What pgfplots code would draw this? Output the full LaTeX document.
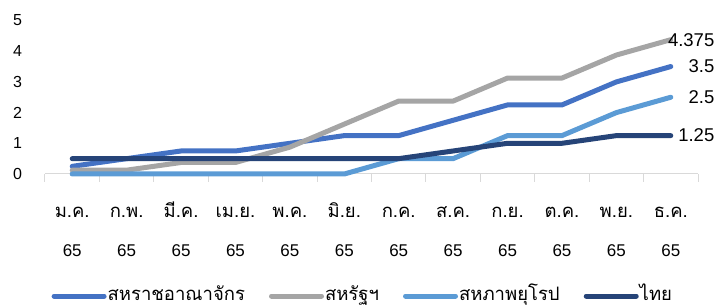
\documentclass[border=0pt]{standalone}
\usepackage{fontspec}
\setmainfont{Liberation Sans}
\newfontfamily\thaifont[Script=Thai]{Loma}
\usepackage{pgfplots}
\pgfplotsset{compat=1.18}
\definecolor{cUK}{HTML}{4472C4}
\definecolor{cUS}{HTML}{A5A5A5}
\definecolor{cEU}{HTML}{5B9BD5}
\definecolor{cTH}{HTML}{264478}
\definecolor{cAx}{HTML}{D9D9D9}
\newcommand{\thlab}[1]{{\rule{0pt}{20pt}\fontsize{18.5pt}{40pt}\thaifont #1}}
\begin{document}
\begin{tikzpicture}
\path[use as bounding box] (-45pt,-133pt) rectangle (673pt,174pt);
\begin{axis}[
  at={(0pt,0pt)}, anchor=south west,
  scale only axis, width=653pt, height=153.5pt,
  xmin=-0.5, xmax=11.5, ymin=0, ymax=5,
  clip=false,
  axis x line*=bottom, axis y line*=left,
  y axis line style={draw=none},
  x axis line style={draw=cAx, line width=1pt},
  xtick={0,...,11},
  xticklabels={\thlab{ม.ค.}\\65,\thlab{ก.พ.}\\65,\thlab{มี.ค.}\\65,\thlab{เม.ย.}\\65,\thlab{พ.ค.}\\65,\thlab{มิ.ย.}\\65,\thlab{ก.ค.}\\65,\thlab{ส.ค.}\\65,\thlab{ก.ย.}\\65,\thlab{ต.ค.}\\65,\thlab{พ.ย.}\\65,\thlab{ธ.ค.}\\65},
  minor xtick={-0.5,0.5,...,11.5},
  major tick length=0pt, minor tick length=8pt, tick align=outside,
  minor x tick style={draw=cAx, line width=1pt},
  ytick={0,1,2,3,4,5},
  ytick style={draw=none},
  /pgf/number format/assume math mode=true,
  yticklabel style={font=\fontsize{16pt}{19pt}\selectfont, xshift=-19.5pt},
  xticklabel style={font=\fontsize{17pt}{39pt}\selectfont, align=center, yshift=-20pt},
  legend columns=4,
  legend style={draw=none, fill=none, at={(axis description cs:0.486,-0.795)}, anchor=center,
    font=\fontsize{18.5pt}{20pt}\selectfont\thaifont,
    /tikz/every even column/.append style={column sep=23pt},
    nodes={inner sep=1pt, text height=12pt, text depth=4pt}},
  legend image code/.code={\draw[#1,line width=5pt,line cap=round] (0pt,0pt) -- (50pt,0pt);},
]
\addplot[cUK, line width=5pt, line cap=round, line join=round] coordinates {
(0,0.25) (1,0.5) (2,0.75) (3,0.75) (4,1.0) (5,1.25) (6,1.25) (7,1.75) (8,2.25) (9,2.25) (10,3.0) (11,3.5)}
node[pos=1, anchor=east, inner sep=0pt, xshift=46pt, text=black, font=\fontsize{18.5pt}{20pt}\selectfont]{3.5};
\addlegendentry{สหราชอาณาจักร}
\addplot[cUS, line width=5pt, line cap=round, line join=round] coordinates {
(0,0.125) (1,0.125) (2,0.375) (3,0.375) (4,0.875) (5,1.625) (6,2.375) (7,2.375) (8,3.125) (9,3.125) (10,3.875) (11,4.375)}
node[pos=1, anchor=east, inner sep=0pt, xshift=46pt, text=black, font=\fontsize{18.5pt}{20pt}\selectfont]{4.375};
\addlegendentry{สหรัฐฯ}
\addplot[cEU, line width=5pt, line cap=round, line join=round] coordinates {
(0,0) (1,0) (2,0) (3,0) (4,0) (5,0) (6,0.5) (7,0.5) (8,1.25) (9,1.25) (10,2.0) (11,2.5)}
node[pos=1, anchor=east, inner sep=0pt, xshift=46pt, text=black, font=\fontsize{18.5pt}{20pt}\selectfont]{2.5};
\addlegendentry{สหภาพยุโรป}
\addplot[cTH, line width=5pt, line cap=round, line join=round] coordinates {
(0,0.5) (1,0.5) (2,0.5) (3,0.5) (4,0.5) (5,0.5) (6,0.5) (7,0.75) (8,1.0) (9,1.0) (10,1.25) (11,1.25)}
node[pos=1, anchor=east, inner sep=0pt, xshift=46pt, text=black, font=\fontsize{18.5pt}{20pt}\selectfont]{1.25};
\addlegendentry{ไทย}
\end{axis}
\end{tikzpicture}
\end{document}
